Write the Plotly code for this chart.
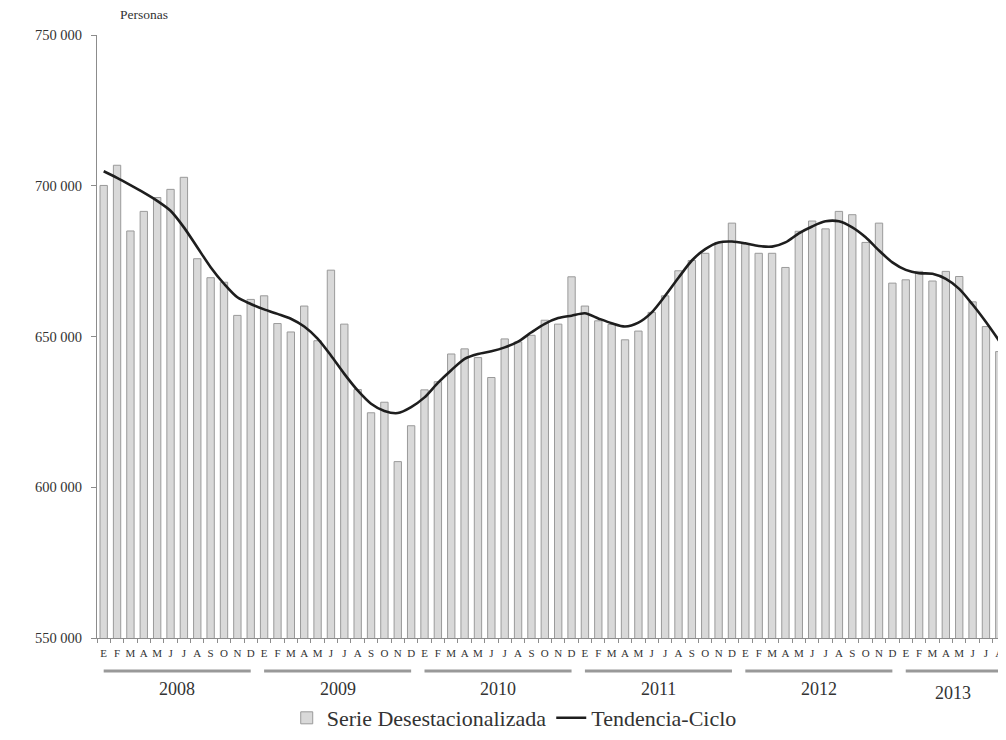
import plotly.graph_objects as go

years = ["2008", "2009", "2010", "2011", "2012", "2013"]
month_letters = ["E", "F", "M", "A", "M", "J", "J", "A", "S", "O", "N", "D"]
months_per_year = [12, 12, 12, 12, 12, 8]

serie_desest = [
    700100, 706800, 685000, 691500, 696100, 698800, 702800, 675800, 669500, 668000, 657000, 662300,
    663500, 654300, 651500, 660100, 648600, 672000, 654100, 632400, 624700, 628200, 608500, 620400,
    632300, 635000, 644200, 645900, 643000, 636400, 649200, 648200, 650400, 655400, 654100, 669800,
    660100, 655200, 654000, 648900, 651800, 658000, 663500, 671800, 675200, 677600, 681200, 687600,
    680700, 677600, 677600, 672900, 684900, 688300, 685700, 691500, 690400, 681200, 687600, 667700,
    668800, 671600, 668400, 671600, 669900, 661500, 653300, 645000,
]
tendencia = [
    704800, 702600, 700200, 697700, 695000, 691700, 686200, 679600, 673000, 667500, 663000, 660800,
    659000, 657500, 655900, 653300, 649300, 643700, 637600, 632100, 627700, 625300, 624600, 626600,
    629800, 634600, 638800, 642600, 644200, 645100, 646400, 648300, 651400, 654200, 656100, 656900,
    657700, 656000, 654400, 653300, 654600, 658000, 663500, 669500, 675200, 679000, 681200, 681500,
    680900, 680000, 679800, 681200, 684200, 686500, 688200, 688200, 686200, 682900, 678500, 674600,
    672100, 671000, 670800, 669100, 665800, 660600, 654800, 648500,
]
y_ticks = [550000, 600000, 650000, 700000, 750000]

n = len(serie_desest)
xs = list(range(n))
ticktext = []
for m in months_per_year:
    ticktext += month_letters[:m]

FONT = "Liberation Serif, Times New Roman, serif"
TXT = "#333333"
AX = "#8c8c8c"

fig = go.Figure()
fig.add_trace(go.Bar(
    x=xs, y=serie_desest, name="Serie Desestacionalizada",
    marker=dict(color="#d9d9d9", line=dict(color="#9a9a9a", width=1)),
))
fig.add_trace(go.Scatter(
    x=xs, y=tendencia, name="Tendencia-Ciclo", mode="lines",
    line=dict(color="#1e1e1e", width=2.6, shape="spline", smoothing=0.8),
))

# year labels and underlines
start = 0
for yr, m in zip(years, months_per_year):
    first, last = start, start + m - 1
    fig.add_shape(type="line", xref="x", yref="paper", x0=first, x1=last,
                  y0=-0.0547, y1=-0.0547, line=dict(color="#999999", width=3))
    yy = -0.0846 if yr != "2013" else -0.091
    fig.add_annotation(x=(first + last) / 2, y=yy, xref="x", yref="paper",
                       text=yr, showarrow=False, yanchor="middle",
                       font=dict(family=FONT, size=18, color=TXT))
    start += m

fig.add_annotation(x=(118 - 97) / 909, y=(638 - 14) / 603, xref="paper", yref="paper",
                   text="Personas", showarrow=False, xanchor="left", yanchor="middle",
                   font=dict(family=FONT, size=13.5, color=TXT))

fig.update_layout(
    width=998, height=732,
    margin=dict(l=89, r=0, t=27, b=102),
    plot_bgcolor="white", paper_bgcolor="white",
    separators=". ",
    bargap=0.45,
    showlegend=True,
    legend=dict(orientation="h", x=0.459, xanchor="center", y=-0.1327, yanchor="middle",
                font=dict(family=FONT, size=22, color=TXT), traceorder="normal",
                itemwidth=30),
    font=dict(family=FONT, color=TXT),
    xaxis=dict(
        range=[-0.5, n - 0.5], tickmode="array", tickvals=xs, ticktext=ticktext,
        ticks="", showline=True, linecolor=AX, linewidth=1, showgrid=False,
        zeroline=False, tickfont=dict(family=FONT, size=11, color=TXT),
        ticklabelstandoff=5,
        minor=dict(tickmode="linear", tick0=-0.5, dtick=1, ticks="outside",
                   ticklen=4, tickcolor=AX, showgrid=False),
    ),
    yaxis=dict(
        range=[550000, 750000], tickmode="array", tickvals=y_ticks,
        tickformat=",d", ticks="outside", ticklen=5, tickcolor=AX,
        showline=True, linecolor=AX, linewidth=1, showgrid=False, zeroline=False,
        tickfont=dict(family=FONT, size=14.5, color=TXT), ticklabelstandoff=6,
    ),
)

fig.write_html("out.html")
